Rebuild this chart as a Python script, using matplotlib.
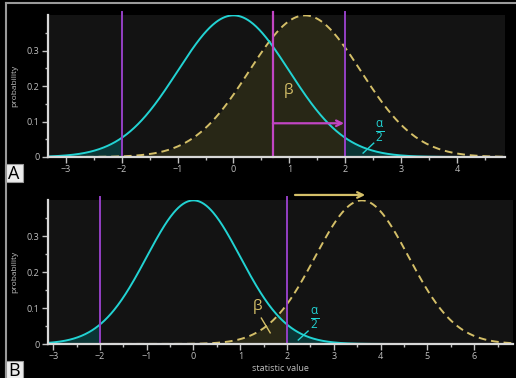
import numpy as np
import matplotlib
matplotlib.use("Agg")
import matplotlib.pyplot as plt
from matplotlib.lines import Line2D
from matplotlib.patches import Rectangle

plt.rcParams['font.family'] = ['Open Sans', 'DejaVu Sans']

# distribution parameters
null_mean = 0.0
alt_mean_a = 1.28
alt_mean_b = 3.6
sd = 1.0
crit = 2.0
xlim_a = (-3.32, 4.86)
xlim_b = (-3.11, 6.83)
xticks_a = [-3, -2, -1, 0, 1, 2, 3, 4]
xticks_b = [-3, -2, -1, 0, 1, 2, 3, 4, 5, 6]
yticks = [0, 0.1, 0.2, 0.3]
ytick_labels = ["0", "0.1", "0.2", "0.3"]
shift_line_a = 0.705

CYAN = "#22d3d3"
GOLD = "#d4bf68"
PURPLE = "#9440c4"
MAGENTA = "#c245c4"
OLIVE = "#282716"
TEAL = "#0b3535"
GREY = "#c0c0c0"


def pdf(x, mu):
    return np.exp(-0.5 * ((x - mu) / sd) ** 2) / (sd * np.sqrt(2 * np.pi))


def setup(ax, xlim, xticks):
    ax.set_facecolor("#131313")
    ax.set_xticks(xticks)
    ax.set_xticks(np.arange(xticks[0] - 0.5, xticks[-1] + 1, 0.5), minor=True)
    ax.set_yticks(yticks)
    ax.set_yticklabels(ytick_labels)
    ax.set_yticks([0.05, 0.15, 0.25, 0.35], minor=True)
    # limits after ticks, otherwise the minor ticks widen the view
    ax.set_xlim(*xlim)
    ax.set_ylim(0, 0.4)
    for s in ["top", "right"]:
        ax.spines[s].set_visible(False)
    for s in ["left", "bottom"]:
        ax.spines[s].set_color("#d8d8d8")
        ax.spines[s].set_linewidth(1.6)
    ax.tick_params(which="both", colors=GREY, labelsize=6.5, width=1.0, pad=2)
    ax.tick_params(which="major", length=4)
    ax.tick_params(which="minor", length=2.5)
    ax.set_ylabel("probability", color=GREY, fontsize=6, labelpad=6)


def draw(ax, xlim, alt_mean):
    x = np.linspace(xlim[0], xlim[1], 600)
    y0 = pdf(x, null_mean)
    y1 = pdf(x, alt_mean)
    ax.fill_between(x, 0, y1, where=x <= crit, color=OLIVE, lw=0)
    ax.fill_between(x, 0, y0, where=x >= crit, color=TEAL, lw=0)
    ax.fill_between(x, 0, y0, where=x <= -crit, color=TEAL, lw=0)
    ax.plot(x, y1, color=GOLD, lw=1.4, ls=(0, (4, 2.5)))
    ax.plot(x, y0, color=CYAN, lw=1.4)


fig = plt.figure(figsize=(5.16, 3.78), dpi=100)
fig.patch.set_facecolor("black")

axA = fig.add_axes([48 / 516, 1 - 157 / 378, 457 / 516, 142 / 378])
axB = fig.add_axes([48 / 516, 1 - 344 / 378, 465 / 516, 144 / 378])

# panel A
setup(axA, xlim_a, xticks_a)
draw(axA, xlim_a, alt_mean_a)
axA.axvline(-crit, ymin=0, ymax=1.02, color=PURPLE, lw=1.4, clip_on=False)
axA.axvline(crit, ymin=0, ymax=1.02, color=PURPLE, lw=1.4, clip_on=False)
axA.axvline(shift_line_a, ymin=0, ymax=1.02, color=MAGENTA, lw=1.6, clip_on=False)
axA.annotate("", xy=(crit - 0.02, 0.095), xytext=(shift_line_a, 0.095),
             arrowprops=dict(arrowstyle="->", color=MAGENTA, lw=1.6,
                             mutation_scale=10, shrinkA=0, shrinkB=0))
axA.text(0.99, 0.188, "β", color=GOLD, fontsize=11, ha="center", va="center")
axA.text(2.62, 0.070, r"$\frac{\mathregular{α}}{\mathregular{2}}$", color=CYAN,
         fontsize=12, ha="center", va="center")
axA.plot([2.32, 2.51], [0.011, 0.039], color=CYAN, lw=1.0)

# panel B
setup(axB, xlim_b, xticks_b)
draw(axB, xlim_b, alt_mean_b)
axB.axvline(-crit, ymin=0, ymax=1.02, color=PURPLE, lw=1.4, clip_on=False)
axB.axvline(crit, ymin=0, ymax=1.02, color=PURPLE, lw=1.4, clip_on=False)
axB.annotate("", xy=(3.67, 0.414), xytext=(2.17, 0.414),
             arrowprops=dict(arrowstyle="->", color=GOLD, lw=1.6,
                             mutation_scale=10, shrinkA=0, shrinkB=0),
             annotation_clip=False)
axB.text(1.36, 0.103, "β", color=GOLD, fontsize=11, ha="center", va="center")
axB.plot([1.45, 1.64], [0.072, 0.031], color=GOLD, lw=1.0)
axB.text(2.59, 0.069, r"$\frac{\mathregular{α}}{\mathregular{2}}$", color=CYAN,
         fontsize=12, ha="center", va="center")
axB.plot([2.24, 2.45], [0.011, 0.036], color=CYAN, lw=1.0)
axB.set_xlabel("statistic value", color=GREY, fontsize=6.5, labelpad=2)

# frame lines and panel letters
fig.add_artist(Line2D([5.5 / 516, 1], [1 - 3 / 378, 1 - 3 / 378], color="#9a9a9a", lw=1.5))
fig.add_artist(Line2D([5.5 / 516, 5.5 / 516], [1 - 3 / 378, 0], color="#9a9a9a", lw=1.5))
for lab, ytop in [("A", 164), ("B", 361)]:
    fig.add_artist(Rectangle((5 / 516, 1 - (ytop + 18) / 378), 18 / 516, 18 / 378,
                             facecolor="#ececec", edgecolor="#9a9a9a", lw=0.8))
    fig.text(14 / 516, 1 - (ytop + 9.5) / 378, lab, color="black", fontsize=13,
             ha="center", va="center")

fig.savefig("out.png", dpi=100, facecolor=fig.get_facecolor())
